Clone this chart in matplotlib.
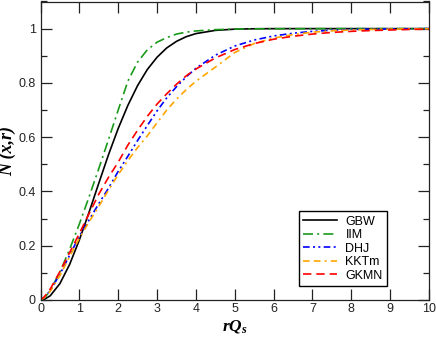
import matplotlib
matplotlib.use("Agg")
import matplotlib.pyplot as plt
from matplotlib.ticker import MultipleLocator

plt.rcParams['font.family'] = ['Liberation Sans', 'DejaVu Sans']
plt.rcParams['mathtext.fontset'] = 'custom'
plt.rcParams['mathtext.it'] = 'Liberation Serif:italic:bold'
plt.rcParams['mathtext.rm'] = 'Liberation Serif:bold'

# x grid (rQs) for the read-off values
x_vals = [0, 0.1, 0.25, 0.5, 0.75, 1, 1.25, 1.5, 1.75, 2, 2.25, 2.5, 2.75, 3,
          3.25, 3.5, 3.75, 4, 4.5, 5, 5.5, 6, 6.5, 7, 7.5, 8, 8.5, 9, 9.5, 10]

gbw = [0, 0.0025, 0.0155, 0.0606, 0.1311, 0.2212, 0.3235, 0.4302, 0.5353, 0.6321,
       0.7176, 0.7904, 0.8495, 0.8946, 0.9290, 0.9531, 0.9703, 0.9817, 0.9936, 0.9981,
       0.9995, 0.9999, 1.0, 1.0, 1.0, 1.0, 1.0, 1.0, 1.0, 1.0]

iim = [0, 0.0074, 0.035, 0.103, 0.187, 0.280, 0.380, 0.484, 0.591, 0.700,
       0.807, 0.877, 0.922, 0.950, 0.967, 0.980, 0.987, 0.9915, 0.9963, 0.9984,
       0.9993, 0.9997, 0.9999, 1.0, 1.0, 1.0, 1.0, 1.0, 1.0, 1.0]

dhj = [0, 0.010, 0.035, 0.095, 0.165, 0.235, 0.295, 0.355, 0.412, 0.474,
       0.530, 0.588, 0.643, 0.697, 0.745, 0.786, 0.822, 0.854, 0.902, 0.936,
       0.958, 0.973, 0.983, 0.990, 0.994, 0.997, 0.998, 0.999, 0.9995, 1.0]

kktm = [0, 0.009, 0.032, 0.090, 0.160, 0.228, 0.288, 0.345, 0.405, 0.462,
        0.514, 0.562, 0.605, 0.653, 0.700, 0.740, 0.775, 0.806, 0.858, 0.912,
        0.945, 0.965, 0.978, 0.987, 0.992, 0.995, 0.997, 0.998, 0.999, 0.9995]

gkmn = [0, 0.012, 0.040, 0.105, 0.175, 0.245, 0.318, 0.390, 0.452, 0.508,
        0.571, 0.626, 0.677, 0.722, 0.760, 0.795, 0.826, 0.851, 0.892, 0.923,
        0.945, 0.961, 0.972, 0.980, 0.986, 0.990, 0.993, 0.995, 0.997, 0.998]

labels = ['GBW', 'IIM', 'DHJ', 'KKTm', 'GKMN']
colors = ['black', '#1a9a1a', '#0000ff', '#ffa500', '#ff0000']
styles = ['-', (0, (6, 2.5, 1.2, 2.5)), (0, (4, 2, 1.2, 2, 1.2, 2)),
          (0, (4, 2.5, 4, 2.5, 1.2, 2.5)), (0, (5, 3))]
series = [gbw, iim, dhj, kktm, gkmn]

fig = plt.figure(figsize=(4.36, 3.38), dpi=100)
ax = fig.add_axes([40.5 / 436, 38 / 338, (429 - 40.5) / 436, (300 - 1.5) / 338])

for y, lab, c, ls in zip(series, labels, colors, styles):
    ax.plot(x_vals, y, color=c, linestyle=ls, lw=1.2, label=lab)

ax.set_xlim(0, 10)
ax.set_ylim(0, 1.1)
ax.yaxis.set_minor_locator(MultipleLocator(0.1))
ax.set_yticks([0, 0.2, 0.4, 0.6, 0.8, 1.0])
ax.set_yticklabels(['0', '0.2', '0.4', '0.6', '0.8', '1'])
ax.set_xticks(range(0, 11))
ax.set_xticklabels([str(i) for i in range(0, 11)])

ax.tick_params(which='both', direction='in', top=True, right=True,
               labelsize=9, colors='#222222')
ax.tick_params(axis='x', which='major', length=8, width=0.9, pad=2)
ax.tick_params(axis='y', which='major', length=8, width=0.9, pad=3.5)
ax.tick_params(which='minor', length=4, width=0.9)
for s in ax.spines.values():
    s.set_linewidth(0.9)
    s.set_color('#222222')

ax.set_xlabel(r'$rQ_s$', fontsize=12.5, labelpad=2)
ax.set_ylabel('N (x,r)', fontsize=13, family='Liberation Serif',
              fontweight='bold', style='italic')
ax.yaxis.set_label_coords(-0.062, 0.5)

leg = ax.legend(loc='lower right', bbox_to_anchor=(0.892, 0.047),
                borderaxespad=0, fontsize=9, frameon=True, fancybox=False,
                edgecolor='black', framealpha=1, handlelength=2.7,
                handletextpad=0.7, labelspacing=0.12, borderpad=0.35)
leg.get_frame().set_linewidth(1.0)

fig.savefig('out.png', dpi=100)
